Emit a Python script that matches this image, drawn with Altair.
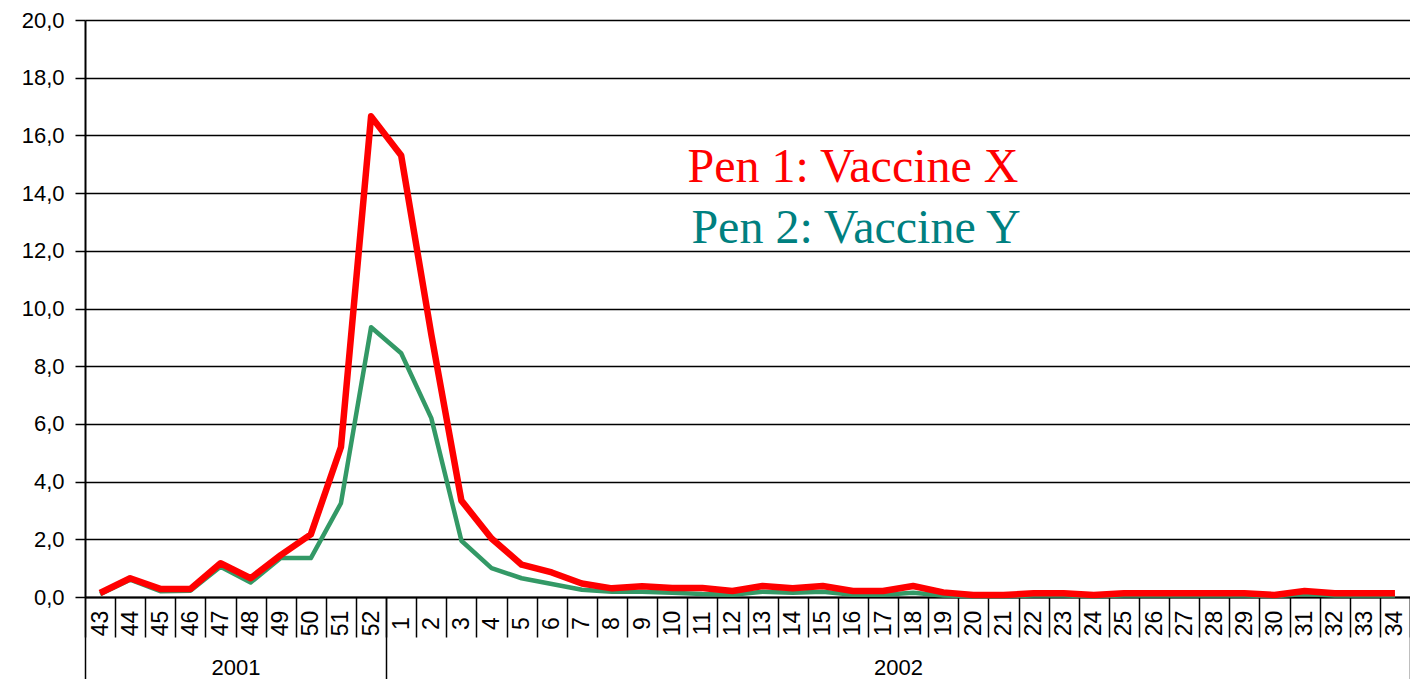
import altair as alt
import pandas as pd

weeks = ["43", "44", "45", "46", "47", "48", "49", "50", "51", "52",
         "1", "2", "3", "4", "5", "6", "7", "8", "9", "10", "11", "12", "13", "14",
         "15", "16", "17", "18", "19", "20", "21", "22", "23", "24", "25", "26",
         "27", "28", "29", "30", "31", "32", "33", "34"]
years = ["2001", "2002"]
pen1 = [0.14, 0.65, 0.28, 0.28, 1.17, 0.65, 1.45, 2.17, 5.2, 16.66,
        15.3, 9.1, 3.34, 2.03, 1.12, 0.85, 0.47, 0.3, 0.37, 0.31, 0.31, 0.21, 0.38, 0.3,
        0.38, 0.21, 0.21, 0.38, 0.16, 0.07, 0.07, 0.13, 0.13, 0.07, 0.13, 0.13,
        0.13, 0.13, 0.13, 0.07, 0.21, 0.13, 0.13, 0.13]
pen2 = [0.1, 0.6, 0.2, 0.22, 1.05, 0.5, 1.35, 1.35, 3.25, 9.35,
        8.45, 6.2, 1.95, 1.0, 0.65, 0.45, 0.25, 0.18, 0.18, 0.15, 0.1, 0.08, 0.18, 0.15,
        0.18, 0.08, 0.08, 0.15, 0.05, 0.03, 0.03, 0.05, 0.05, 0.03, 0.05, 0.05,
        0.05, 0.05, 0.05, 0.03, 0.1, 0.05, 0.05, 0.05]
labels = ["Pen 1: Vaccine X", "Pen 2: Vaccine Y"]

n = len(weeks)
df = pd.DataFrame({"week": weeks, "idx": list(range(n)), "pen1": pen1, "pen2": pen2})

FONT = "Liberation Sans"
weeks_js = "[" + ",".join("'" + w + "'" for w in weeks) + "]"

xscale = alt.Scale(domain=[0, n], nice=False, zero=False)

week_axis = alt.Axis(
    orient="bottom",
    values=[i * 0.5 for i in range(2 * n + 1)],
    title=None,
    grid=False,
    domain=True, domainColor="black", domainWidth=2,
    ticks=True, tickSize=40, tickWidth=1.5, tickColor="black",
    tickOpacity={"condition": {"test": "datum.value % 1 === 0", "value": 1}, "value": 0},
    labelExpr="datum.value % 1 === 0 ? '' : " + weeks_js + "[floor(datum.value)]",
    labelAngle=270, labelAlign="center", labelBaseline="middle",
    labelPadding=-14, labelFontSize=23, labelFont=FONT, labelColor="black",
    labelOverlap=False, labelFlush=False, labelBound=False,
)

year_axis = alt.Axis(
    orient="bottom",
    values=[0, 5, 10, 27, n],
    title=None,
    grid=False,
    domain=False,
    ticks=True, tickSize=82, tickWidth=1.5, tickColor="black",
    tickOpacity={"condition": {"test": "datum.value === 0 || datum.value === 10 || datum.value === 44", "value": 1}, "value": 0},
    labelExpr="datum.value === 5 ? '" + years[0] + "' : datum.value === 27 ? '" + years[1] + "' : ''",
    labelAngle=0, labelAlign="center", labelBaseline="middle",
    labelPadding=-12, labelFontSize=22, labelFont=FONT, labelColor="black",
    labelOverlap=False, labelFlush=False, labelBound=False,
)

y_axis = alt.Axis(
    values=list(range(0, 21, 2)),
    title=None,
    labelExpr="replace(format(datum.value, '.1f'), '.', ',')",
    grid=True, gridColor="black", gridWidth=1.5,
    domain=True, domainColor="black", domainWidth=2,
    ticks=True, tickSize=10, tickWidth=1.5, tickColor="black",
    labelFontSize=22, labelFont=FONT, labelColor="black", labelPadding=11,
)
yscale = alt.Scale(domain=[0, 20], nice=False)

base = alt.Chart(df).transform_calculate(xc="datum.idx + 0.5")

green = base.mark_line(color="#339966", strokeWidth=4.5, strokeJoin="round").encode(
    x=alt.X("xc:Q", scale=xscale, axis=year_axis),
    y=alt.Y("pen2:Q", scale=yscale, axis=y_axis),
)
red = base.mark_line(color="#FF0000", strokeWidth=6.5, strokeJoin="round").encode(
    x=alt.X("xc:Q", scale=xscale, axis=week_axis),
    y=alt.Y("pen1:Q", scale=yscale, axis=y_axis),
)

lab_df = pd.DataFrame({"t": labels})
t1 = alt.Chart(lab_df).transform_filter(alt.datum.t == labels[0]).mark_text(
    font="Liberation Serif", fontSize=48, color="#FF0000", align="center", baseline="alphabetic"
).encode(text="t:N", x=alt.value(768), y=alt.value(162))
t2 = alt.Chart(lab_df).transform_filter(alt.datum.t == labels[1]).mark_text(
    font="Liberation Serif", fontSize=48, color="#008080", align="center", baseline="alphabetic"
).encode(text="t:N", x=alt.value(771), y=alt.value(223))

chart = alt.layer(green, red, t1, t2).resolve_axis(x="independent").properties(
    width=1325, height=577,
    autosize=alt.AutoSizeParams(type="none"),
    padding={"left": 77, "top": 12, "right": 0, "bottom": 82},
).configure_view(strokeWidth=0).configure(background="white")

chart.save("out.html", embed_options={"renderer": "svg", "actions": False})
